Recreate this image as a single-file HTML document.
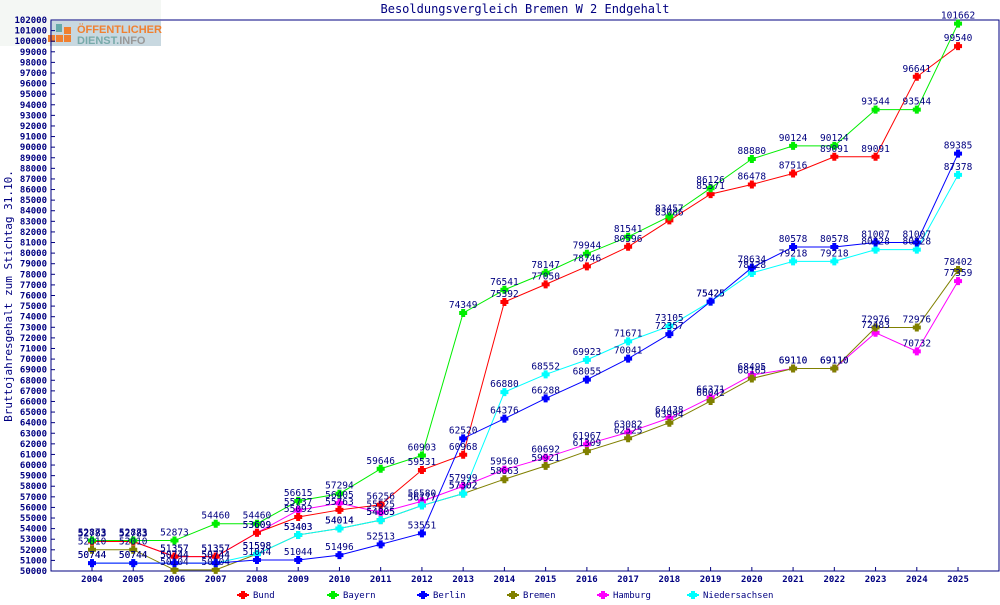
<!DOCTYPE html>
<html><head><meta charset="utf-8"><style>
body{margin:0;background:#fff;}
svg text{font-family:"DejaVu Sans Mono","Liberation Mono",monospace;}
</style></head><body>
<svg id="s" width="1000" height="600" xmlns="http://www.w3.org/2000/svg"></svg>
<script>
const s=document.getElementById('s');
let h='';
const L=51,T=20,R=999,B=571;
const yv=v=>T+(102000-v)/52000*(B-T);
const xv=i=>92+i*41.24;
h+=`<rect x="0" y="0" width="161" height="46" fill="#f4f7f4"/>`;
h+=`<rect x="50" y="21" width="111" height="25" fill="#c8d8e0"/>`;
h+=`<rect x="56" y="24" width="6" height="8" fill="#6aa"/><rect x="64" y="27" width="7" height="7" fill="#f08030"/><rect x="48" y="35" width="7" height="7" fill="#f08030"/><rect x="56" y="35" width="7" height="7" fill="#f08030"/><rect x="64" y="35" width="7" height="7" fill="#f08030"/>`;
h+=`<text x="77" y="33" font-size="11" font-weight="bold" fill="#f08030" style="font-family:'Liberation Sans',sans-serif">ÖFFENTLICHER</text>`;
h+=`<text x="77" y="44" font-size="11" font-weight="bold" fill="#7aa" style="font-family:'Liberation Sans',sans-serif">DIENST.<tspan fill="#999">INFO</tspan></text>`;
h+=`<text x="525" y="13" font-size="12" fill="#000080" text-anchor="middle">Besoldungsvergleich Bremen W 2 Endgehalt</text>`;
h+=`<text transform="translate(12,296) rotate(-90)" font-size="11" fill="#000080" text-anchor="middle">Bruttojahresgehalt zum Stichtag 31.10.</text>`;
h+=`<rect x="${L}" y="${T}" width="${R-L}" height="${B-T}" fill="none" stroke="#000080" stroke-width="1"/>`;
for(let v=50000;v<=102000;v+=1000){const y=yv(v);h+=`<line x1="${L}" x2="${L+4}" y1="${y}" y2="${y}" stroke="#000080"/><text x="${L-4}" y="${y+3}" font-size="9" font-weight="bold" fill="#000080" text-anchor="end">${v}</text>`;}
for(let i=0;i<22;i++){const x=xv(i);h+=`<line x1="${x}" x2="${x}" y1="${B}" y2="${B-4}" stroke="#000080"/><text x="${x}" y="${B+11}" font-size="9" font-weight="bold" fill="#000080" text-anchor="middle">${2004+i}</text>`;}
const S=[
['Hamburg','#ff00ff',[52783,52783,51357,51357,53609,55737,56405,55525,56580,57999,59560,60692,61967,63082,64438,66371,68495,69110,69110,72483,70732,77359],4],
['Bund','#ff0000',[52783,52783,51357,51357,53609,55092,55763,56256,59531,60968,75392,77050,78746,80596,83086,85571,86478,87516,89091,89091,96641,99540],0],
['Bayern','#00ee00',[52873,52873,52873,54460,54460,56615,57294,59646,60903,74349,76541,78147,79944,81541,83457,86126,88880,90124,90124,93544,93544,101662],1],
['Bremen','#808000',[52010,52010,50104,50104,51598,53403,54014,54805,56177,57302,58663,59921,61309,62525,63994,66042,68165,69110,69110,72976,72976,78402],3],
['Niedersachsen','#00ffff',[50744,50744,50744,50744,51598,53403,54014,54805,56177,57302,66880,68552,69923,71671,73105,75425,78128,79218,79218,80328,80328,87378],5],
['Berlin','#0000ff',[50744,50744,50744,50744,51044,51044,51496,52513,53551,62520,64376,66288,68055,70041,72357,75425,78634,80578,80578,81007,81007,89385],2]];
const star=(x,y,c)=>`<path d="M${x-3},${y-1}h2v-2h2v2h2v2h-2v2h-2v-2h-2z" fill="${c}" stroke="${c}" stroke-width="2"/>`;
let labels='';
S.forEach(sr=>{
 const [n,c,d,k]=sr;
 h+=`<polyline fill="none" stroke="${c}" stroke-width="1" points="${d.map((v,i)=>xv(i)+','+yv(v)).join(' ')}"/>`;
 d.forEach((v,i)=>{h+=star(xv(i),yv(v),c);labels+=`<text x="${xv(i)}" y="${yv(v)-5}" font-size="9.5" fill="#000080" text-anchor="middle">${v}</text>`;});
 const lx=243+k*90;
 h+=`<line x1="${lx-6}" x2="${lx+6}" y1="595" y2="595" stroke="${c}" stroke-width="2"/>`+star(lx,595,c)+`<text x="${lx+10}" y="598" font-size="9" fill="#000080">${n}</text>`;
});
h+=labels;
s.innerHTML=h;
</script>
</body></html>
